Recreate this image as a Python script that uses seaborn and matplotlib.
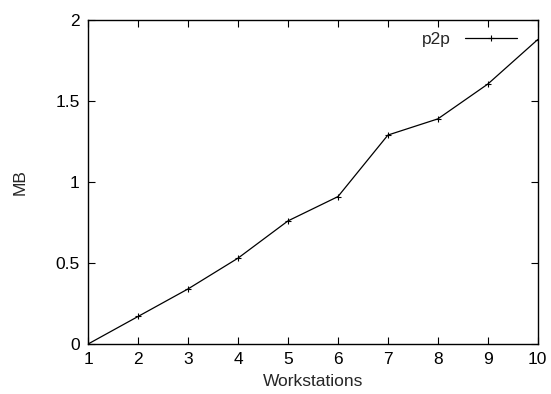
import seaborn as sns
import matplotlib.pyplot as plt
import pandas as pd

workstations = [1, 2, 3, 4, 5, 6, 7, 8, 9, 10]
mb_p2p = [0.0, 0.17, 0.34, 0.53, 0.76, 0.91, 1.29, 1.39, 1.605, 1.88]
y_ticks = [0, 0.5, 1, 1.5, 2]
y_tick_labels = ['0', '0.5', '1', '1.5', '2']

df = pd.DataFrame({'Workstations': workstations, 'MB': mb_p2p})

sns.set_style('ticks')
plt.rcParams['font.family'] = ['Liberation Sans', 'DejaVu Sans']

fig = plt.figure(figsize=(5.51, 3.94), dpi=100)
ax = fig.add_axes([0.160, 0.127, 0.816, 0.822])
sns.lineplot(data=df, x='Workstations', y='MB', ax=ax, color='black',
             linewidth=0.9, marker='+', markersize=5, markeredgewidth=0.8,
             markeredgecolor='black', label='p2p')

ax.set_xlim(1, 10)
ax.set_ylim(0, 2)
ax.set_xticks(workstations)
ax.set_yticks(y_ticks)
ax.set_yticklabels(y_tick_labels)
ax.tick_params(direction='in', length=5, width=0.8, top=True, right=True,
               labelsize=12.5, pad=6, colors='black')
for s in ax.spines.values():
    s.set_linewidth(1.0)
    s.set_color('black')
ax.set_xlabel('Workstations', fontsize=12.5, labelpad=5)
ax.set_ylabel('MB', fontsize=12.5, labelpad=20)

ax.legend(loc='upper right', frameon=False, markerfirst=False, fontsize=12.5,
          handlelength=3.0, borderaxespad=0.3, handletextpad=0.8,
          bbox_to_anchor=(0.98, 1.0))

fig.savefig('out.png', dpi=100)
